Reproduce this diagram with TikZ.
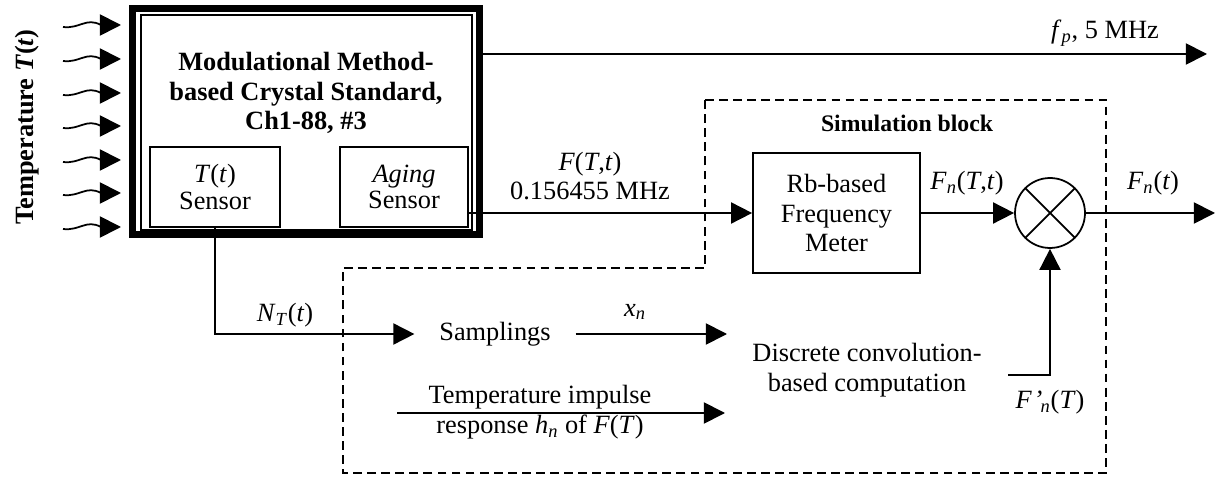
\documentclass[tikz,border=0pt]{standalone}
\usepackage{fontspec}
\setmainfont{Liberation Serif}
\usetikzlibrary{arrows.meta}
\newcommand{\iv}[1]{\textit{#1}}
\newcommand{\lsub}[1]{\textsubscript{\textit{#1}}}

\begin{document}
\begin{tikzpicture}[x=0.02cm,y=-0.02cm,
  every node/.style={font=\fontsize{15}{17}\selectfont},
  arr/.style={line width=1pt,-{Triangle[length=12pt,width=12pt]}},
  blk/.style={draw,line width=1pt,align=center,inner sep=0pt},
  lbl/.style={align=center,inner sep=1pt}]
  \useasboundingbox (0,0) rectangle (1217,479);
  \node[rotate=90,font=\fontsize{15}{17}\selectfont\bfseries] (temp) at (27,127) {Temperature \iv{T}(\iv{t})};
  \foreach \y in {25,59,93,126,160,193,227}
    \draw[arr] (63,\y+2) .. controls (80,\y+4) and (86,\y-8) .. (101,\y) -- (121,\y);
  \node[draw,line width=4pt,minimum width=6.96cm,minimum height=4.52cm] (std) at (306,121.5) {};
  \node[draw,line width=0.8pt,minimum width=6.62cm,minimum height=4.3cm] (stdin) at (306.5,122.5) {};
  \node[lbl,font=\fontsize{15}{17}\selectfont\bfseries] (title) at (306,93) {Modulational Method-\\based Crystal Standard,\\Ch1-88, \#3};
  \node[blk,minimum width=2.6cm,minimum height=1.6cm,font=\fontsize{15}{15}\selectfont] (tsens) at (215,187) {\iv{T}(\iv{t})\\Sensor};
  \node[blk,minimum width=2.56cm,minimum height=1.6cm,font=\fontsize{15}{15}\selectfont] (aging) at (404,187) {\iv{Aging}\\Sensor};
  \coordinate (fpend) at (1207,54);
  \draw[arr] (std.east |- fpend) -- (fpend);
  \node[lbl] (fp) at (1105,33) {\iv{f}\lsub{p}, 5 MHz};
  \draw[line width=1pt,dash pattern=on 5pt off 3pt] (705,100) -- (1106,100) -- (1106,473) -- (343,473) -- (343,268) -- (705,268) -- cycle;
  \node[lbl,font=\fontsize{13.5}{16}\selectfont\bfseries] (sim) at (907,123) {Simulation block};
  \node[blk,minimum width=3.34cm,minimum height=2.4cm] (rb) at (836.5,213) {Rb-based\\Frequency\\Meter};
  \draw[arr] (aging.east |- rb.west) -- (rb.west);
  \node[lbl] (ftl) at (590,176) {\iv{F}(\iv{T},\iv{t})\\0.156455 MHz};
  \node[draw,circle,line width=1pt,minimum size=1.4cm,inner sep=0pt] (mix) at (1050,213) {};
  \draw[line width=1pt] (mix.north west) -- (mix.south east) (mix.north east) -- (mix.south west);
  \draw[arr] (rb.east) -- (mix.west);
  \node[lbl] (fntl) at (967,183) {\iv{F}\lsub{n}(\iv{T},\iv{t})};
  \coordinate (fout) at (1215,213);
  \draw[arr] (mix.east) -- (fout);
  \node[lbl] (fnt) at (1153,183) {\iv{F}\lsub{n}(\iv{t})};
  \node[lbl] (samp) at (495,334) {Samplings};
  \draw[arr] (tsens.south) |- ([xshift=-13pt]samp.west);
  \node[lbl] (nt) at (285,315) {\iv{N}\lsub{T}(\iv{t})};
  \coordinate (xnend) at (727,334);
  \draw[arr] ([xshift=13pt]samp.east) -- (xnend);
  \node[lbl] (xn) at (635,312) {\iv{x}\lsub{n}};
  \coordinate (hst) at (397,413);
  \coordinate (hend) at (725,413);
  \draw[arr] (hst) -- (hend);
  \node[lbl] (imp) at (540,412) {Temperature impulse\\response \iv{h}\lsub{n} of \iv{F}(\iv{T})};
  \node[lbl] (conv) at (867,370) {Discrete convolution-\\based computation};
  \coordinate (fpst) at (1008,375);
  \draw[arr] (fpst) -| (mix.south);
  \node[lbl] (fpr) at (1050,402) {\iv{F}\kern1pt\iv{'}\kern-1pt\lsub{n}(\iv{T})};
\end{tikzpicture}
\end{document}
